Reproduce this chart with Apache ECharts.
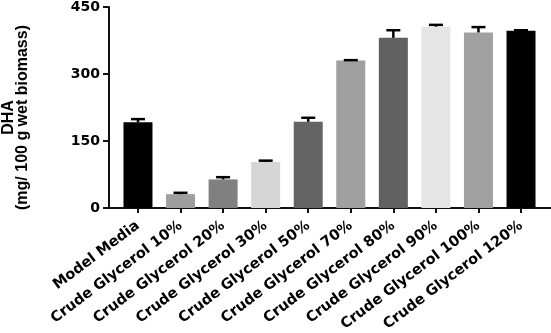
<!DOCTYPE html>
<html>
<head>
<meta charset="utf-8">
<script src="https://cdn.jsdelivr.net/npm/echarts@6/dist/echarts.min.js"></script>
<style>
  html, body { margin: 0; padding: 0; background: #fff; }
  #chart { width: 551px; height: 333px; }
</style>
</head>
<body>
<div id="chart"></div>
<script>
// data
const categories = ['Model Media', 'Crude Glycerol 10%', 'Crude Glycerol 20%', 'Crude Glycerol 30%',
  'Crude Glycerol 50%', 'Crude Glycerol 70%', 'Crude Glycerol 80%', 'Crude Glycerol 90%',
  'Crude Glycerol 100%', 'Crude Glycerol 120%'];
const dhaValues = [192, 31, 64, 103, 193, 330, 381, 406, 393, 397];
const dhaErrors = [7, 3, 5, 3, 9, 1, 17, 4, 12, 1];
const barColors = ['#000000', '#9e9e9e', '#808080', '#d6d6d6', '#646464',
  '#a0a0a0', '#616161', '#e5e5e5', '#a1a1a1', '#000000'];
const yTicks = [0, 150, 300, 450];

const chart = echarts.init(document.getElementById('chart'));

const option = {
  animation: false,
  grid: [
    // bars
    { left: 116.7, right: 8.7, top: 7, bottom: 125, outerBoundsMode: 'none' },
    // frame: y axis + full width x axis line
    { left: 109, right: 0, top: 7, bottom: 125, outerBoundsMode: 'none' },
  ],
  xAxis: [
    {
      type: 'category',
      gridIndex: 0,
      data: categories,
      axisLine: { show: false },
      axisTick: { show: true, alignWithLabel: true, length: 5, lineStyle: { color: '#111', width: 2 } },
      axisLabel: {
        rotate: 37,
        interval: 0,
        margin: 16,
        color: '#000',
        fontFamily: 'DejaVu Sans',
        fontWeight: 'bold',
        fontSize: 14.5,
      },
    },
    {
      type: 'value',
      gridIndex: 1,
      min: 0,
      max: 1,
      axisLine: { show: true, onZero: false, lineStyle: { color: '#111', width: 2 } },
      axisTick: { show: false },
      axisLabel: { show: false },
      splitLine: { show: false },
    },
  ],
  yAxis: [
    {
      type: 'value',
      gridIndex: 0,
      min: yTicks[0],
      max: yTicks[yTicks.length - 1],
      show: false,
    },
    {
      type: 'value',
      gridIndex: 1,
      min: yTicks[0],
      max: yTicks[yTicks.length - 1],
      interval: 150,
      name: 'DHA\n(mg/ 100 g wet biomass)',
      nameLocation: 'middle',
      nameGap: 79,
      nameTextStyle: {
        color: '#000',
        fontFamily: 'Liberation Sans',
        fontWeight: 'bold',
        fontSize: 16,
        lineHeight: 14,
        padding: [0, 20, 0, 0],
      },
      axisLine: { show: true, lineStyle: { color: '#111', width: 2 } },
      axisTick: { show: true, length: 6, lineStyle: { color: '#111', width: 2 } },
      axisLabel: {
        margin: 9,
        color: '#000',
        fontFamily: 'DejaVu Sans',
        fontWeight: 'bold',
        fontSize: 14,
      },
      splitLine: { show: false },
    },
  ],
  series: [
    {
      type: 'bar',
      xAxisIndex: 0,
      yAxisIndex: 0,
      barWidth: 29,
      data: dhaValues.map((v, i) => ({ value: v, itemStyle: { color: barColors[i] } })),
    },
    {
      type: 'custom',
      xAxisIndex: 0,
      yAxisIndex: 0,
      data: dhaValues.map((v, i) => [i, v, v + dhaErrors[i]]),
      renderItem(params, api) {
        const base = api.coord([api.value(0), api.value(1)]);
        const top = api.coord([api.value(0), api.value(2)]);
        const half = 7;
        const style = { stroke: '#000', lineWidth: 2.5, fill: null };
        return {
          type: 'group',
          children: [
            { type: 'line', shape: { x1: base[0], y1: base[1], x2: top[0], y2: top[1] }, style },
            { type: 'line', shape: { x1: top[0] - half, y1: top[1], x2: top[0] + half, y2: top[1] }, style },
          ],
        };
      },
      z: 3,
    },
  ],
};

chart.setOption(option);
</script>
</body>
</html>
